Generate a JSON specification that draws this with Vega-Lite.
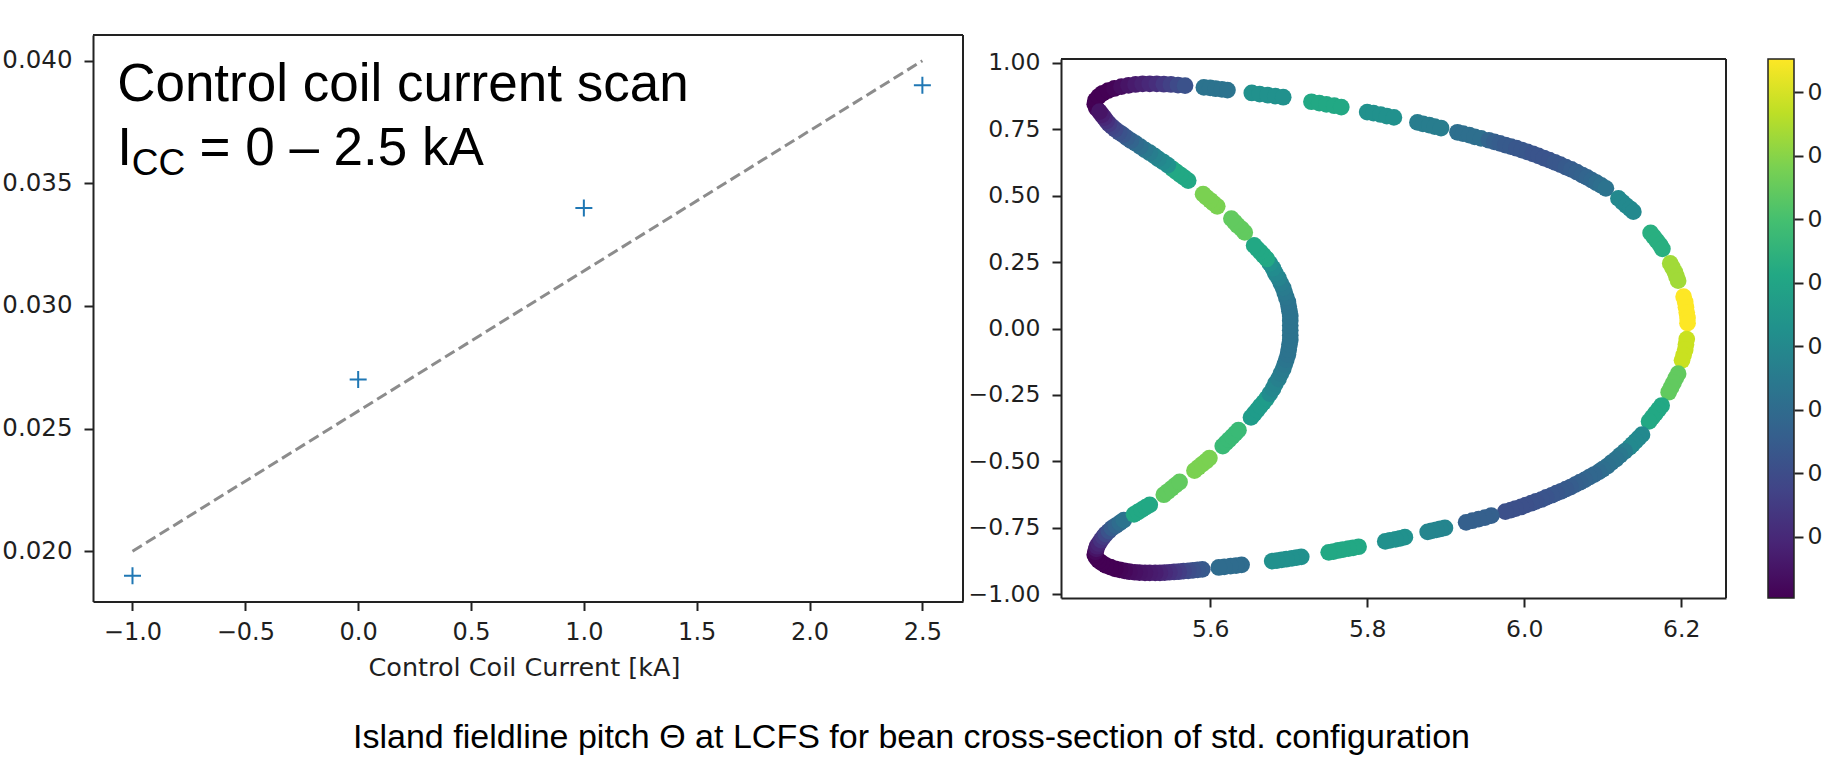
{
  "$schema": "https://vega.github.io/schema/vega-lite/v6.json",
  "width": 1823,
  "height": 764,
  "autosize": {"type": "none"},
  "padding": 0,
  "background": "#ffffff",
  "title": {
    "text": "Island fieldline pitch Θ at LCFS for bean cross-section of std. configuration",
    "orient": "bottom",
    "anchor": "middle",
    "frame": "group",
    "offset": -16,
    "baseline": "alphabetic",
    "font": "Liberation Sans",
    "fontSize": 34,
    "fontWeight": "normal",
    "color": "#000000"
  },
  "config": {
    "view": {"stroke": null},
    "axis": {
      "grid": false,
      "labelFont": "DejaVu Sans",
      "labelFontSize": 23.5,
      "labelColor": "#1f1f1f",
      "tickColor": "#222222",
      "tickWidth": 2,
      "tickSize": 9,
      "domainColor": "#222222",
      "domainWidth": 2,
      "titleFont": "DejaVu Sans",
      "titleFontSize": 25.5,
      "titleFontWeight": "normal",
      "titleColor": "#1f1f1f",
      "labelFlush": false,
      "labelOverlap": false,
      "labelBound": false
    }
  },
  "datasets": {
    "scan": [
      {"current_kA": -1.0, "pitch": 0.019},
      {"current_kA": 0.0, "pitch": 0.027},
      {"current_kA": 1.0, "pitch": 0.034},
      {"current_kA": 2.5, "pitch": 0.039}
    ],
    "fit": [
      {"current_kA": -1.0, "fit": 0.020},
      {"current_kA": 2.5, "fit": 0.040}
    ],
    "colorbar": [{"low": 0.0052, "high": 0.0476}],
    "section": [
      {"R":5.455,"Z":0.830,"pitch":0.0060},{"R":5.453,"Z":0.845,"pitch":0.0052},{"R":5.454,"Z":0.860,"pitch":0.0052},
      {"R":5.458,"Z":0.874,"pitch":0.0052},{"R":5.463,"Z":0.886,"pitch":0.0052},{"R":5.470,"Z":0.896,"pitch":0.0052},
      {"R":5.478,"Z":0.904,"pitch":0.0056},{"R":5.487,"Z":0.911,"pitch":0.0065},{"R":5.496,"Z":0.916,"pitch":0.0073},
      {"R":5.505,"Z":0.919,"pitch":0.0082},{"R":5.514,"Z":0.921,"pitch":0.0090},{"R":5.523,"Z":0.921,"pitch":0.0099},
      {"R":5.532,"Z":0.921,"pitch":0.0107},{"R":5.541,"Z":0.920,"pitch":0.0120},{"R":5.550,"Z":0.919,"pitch":0.0133},
      {"R":5.559,"Z":0.917,"pitch":0.0145},{"R":5.568,"Z":0.915,"pitch":0.0158},

      {"R":5.592,"Z":0.908,"pitch":0.0213},{"R":5.600,"Z":0.906,"pitch":0.0213},{"R":5.607,"Z":0.903,"pitch":0.0213},
      {"R":5.615,"Z":0.901,"pitch":0.0213},{"R":5.622,"Z":0.898,"pitch":0.0213},
      {"R":5.653,"Z":0.887,"pitch":0.0264},{"R":5.663,"Z":0.883,"pitch":0.0264},{"R":5.673,"Z":0.879,"pitch":0.0264},
      {"R":5.683,"Z":0.875,"pitch":0.0264},{"R":5.693,"Z":0.871,"pitch":0.0264},
      {"R":5.729,"Z":0.854,"pitch":0.0306},{"R":5.739,"Z":0.849,"pitch":0.0306},{"R":5.748,"Z":0.844,"pitch":0.0306},
      {"R":5.758,"Z":0.839,"pitch":0.0306},{"R":5.767,"Z":0.834,"pitch":0.0306},
      {"R":5.800,"Z":0.815,"pitch":0.0264},{"R":5.808,"Z":0.811,"pitch":0.0264},{"R":5.817,"Z":0.806,"pitch":0.0264},
      {"R":5.825,"Z":0.800,"pitch":0.0264},{"R":5.834,"Z":0.795,"pitch":0.0264},
      {"R":5.864,"Z":0.776,"pitch":0.0230},{"R":5.871,"Z":0.771,"pitch":0.0230},{"R":5.879,"Z":0.766,"pitch":0.0230},
      {"R":5.886,"Z":0.760,"pitch":0.0230},{"R":5.894,"Z":0.755,"pitch":0.0230},
      {"R":5.915,"Z":0.739,"pitch":0.0205},{"R":5.922,"Z":0.734,"pitch":0.0205},{"R":5.930,"Z":0.728,"pitch":0.0205},
      {"R":5.937,"Z":0.722,"pitch":0.0205},{"R":5.945,"Z":0.716,"pitch":0.0205},

      {"R":5.955,"Z":0.709,"pitch":0.0188},{"R":5.962,"Z":0.703,"pitch":0.0179},{"R":5.969,"Z":0.697,"pitch":0.0175},
      {"R":5.976,"Z":0.691,"pitch":0.0171},{"R":5.983,"Z":0.685,"pitch":0.0171},{"R":5.990,"Z":0.679,"pitch":0.0166},
      {"R":5.997,"Z":0.672,"pitch":0.0166},{"R":6.004,"Z":0.665,"pitch":0.0166},{"R":6.011,"Z":0.658,"pitch":0.0162},
      {"R":6.018,"Z":0.650,"pitch":0.0162},{"R":6.025,"Z":0.642,"pitch":0.0162},{"R":6.032,"Z":0.634,"pitch":0.0162},
      {"R":6.039,"Z":0.626,"pitch":0.0166},{"R":6.046,"Z":0.617,"pitch":0.0166},{"R":6.053,"Z":0.608,"pitch":0.0171},
      {"R":6.060,"Z":0.599,"pitch":0.0175},{"R":6.067,"Z":0.589,"pitch":0.0179},{"R":6.074,"Z":0.578,"pitch":0.0183},
      {"R":6.080,"Z":0.569,"pitch":0.0188},{"R":6.086,"Z":0.559,"pitch":0.0192},{"R":6.092,"Z":0.549,"pitch":0.0200},
      {"R":6.098,"Z":0.539,"pitch":0.0205},{"R":6.104,"Z":0.528,"pitch":0.0213},

      {"R":6.120,"Z":0.490,"pitch":0.0251},{"R":6.125,"Z":0.476,"pitch":0.0251},{"R":6.130,"Z":0.463,"pitch":0.0251},
      {"R":6.135,"Z":0.451,"pitch":0.0251},{"R":6.139,"Z":0.440,"pitch":0.0251},
      {"R":6.161,"Z":0.360,"pitch":0.0319},{"R":6.165,"Z":0.345,"pitch":0.0319},{"R":6.169,"Z":0.330,"pitch":0.0319},
      {"R":6.173,"Z":0.315,"pitch":0.0319},{"R":6.176,"Z":0.300,"pitch":0.0319},
      {"R":6.186,"Z":0.245,"pitch":0.0417},{"R":6.189,"Z":0.229,"pitch":0.0417},{"R":6.192,"Z":0.212,"pitch":0.0417},
      {"R":6.194,"Z":0.196,"pitch":0.0417},{"R":6.196,"Z":0.180,"pitch":0.0417},
      {"R":6.203,"Z":0.120,"pitch":0.0476},{"R":6.205,"Z":0.100,"pitch":0.0476},{"R":6.206,"Z":0.080,"pitch":0.0476},
      {"R":6.207,"Z":0.060,"pitch":0.0476},{"R":6.208,"Z":0.040,"pitch":0.0476},{"R":6.208,"Z":0.020,"pitch":0.0476},
      {"R":6.207,"Z":-0.040,"pitch":0.0442},{"R":6.206,"Z":-0.060,"pitch":0.0442},{"R":6.205,"Z":-0.080,"pitch":0.0442},
      {"R":6.203,"Z":-0.100,"pitch":0.0442},{"R":6.201,"Z":-0.120,"pitch":0.0442},
      {"R":6.196,"Z":-0.170,"pitch":0.0374},{"R":6.193,"Z":-0.187,"pitch":0.0374},{"R":6.190,"Z":-0.205,"pitch":0.0374},
      {"R":6.187,"Z":-0.222,"pitch":0.0374},{"R":6.184,"Z":-0.240,"pitch":0.0374},
      {"R":6.175,"Z":-0.290,"pitch":0.0306},{"R":6.171,"Z":-0.305,"pitch":0.0306},{"R":6.167,"Z":-0.320,"pitch":0.0306},
      {"R":6.163,"Z":-0.335,"pitch":0.0306},{"R":6.159,"Z":-0.350,"pitch":0.0306},
      {"R":6.150,"Z":-0.400,"pitch":0.0251},{"R":6.146,"Z":-0.412,"pitch":0.0251},{"R":6.142,"Z":-0.424,"pitch":0.0251},
      {"R":6.138,"Z":-0.436,"pitch":0.0251},{"R":6.134,"Z":-0.448,"pitch":0.0251},

      {"R":6.128,"Z":-0.463,"pitch":0.0230},{"R":6.122,"Z":-0.478,"pitch":0.0222},{"R":6.117,"Z":-0.492,"pitch":0.0217},
      {"R":6.111,"Z":-0.505,"pitch":0.0213},{"R":6.106,"Z":-0.518,"pitch":0.0209},{"R":6.100,"Z":-0.530,"pitch":0.0205},
      {"R":6.095,"Z":-0.540,"pitch":0.0200},{"R":6.089,"Z":-0.550,"pitch":0.0192},{"R":6.083,"Z":-0.560,"pitch":0.0192},
      {"R":6.077,"Z":-0.570,"pitch":0.0188},{"R":6.071,"Z":-0.579,"pitch":0.0183},{"R":6.065,"Z":-0.588,"pitch":0.0179},
      {"R":6.059,"Z":-0.597,"pitch":0.0175},{"R":6.053,"Z":-0.605,"pitch":0.0171},{"R":6.047,"Z":-0.613,"pitch":0.0171},
      {"R":6.041,"Z":-0.620,"pitch":0.0166},{"R":6.035,"Z":-0.628,"pitch":0.0166},{"R":6.028,"Z":-0.636,"pitch":0.0162},
      {"R":6.022,"Z":-0.644,"pitch":0.0162},{"R":6.015,"Z":-0.651,"pitch":0.0158},{"R":6.009,"Z":-0.658,"pitch":0.0158},
      {"R":6.002,"Z":-0.665,"pitch":0.0154},{"R":5.996,"Z":-0.672,"pitch":0.0154},{"R":5.989,"Z":-0.678,"pitch":0.0154},
      {"R":5.983,"Z":-0.684,"pitch":0.0154},{"R":5.976,"Z":-0.690,"pitch":0.0154},

      {"R":5.958,"Z":-0.705,"pitch":0.0179},{"R":5.950,"Z":-0.712,"pitch":0.0179},{"R":5.942,"Z":-0.718,"pitch":0.0179},
      {"R":5.934,"Z":-0.724,"pitch":0.0179},{"R":5.926,"Z":-0.730,"pitch":0.0179},
      {"R":5.899,"Z":-0.751,"pitch":0.0243},{"R":5.893,"Z":-0.755,"pitch":0.0243},{"R":5.888,"Z":-0.758,"pitch":0.0243},
      {"R":5.882,"Z":-0.762,"pitch":0.0243},{"R":5.877,"Z":-0.766,"pitch":0.0243},
      {"R":5.848,"Z":-0.786,"pitch":0.0264},{"R":5.842,"Z":-0.790,"pitch":0.0264},{"R":5.836,"Z":-0.794,"pitch":0.0264},
      {"R":5.829,"Z":-0.798,"pitch":0.0264},{"R":5.823,"Z":-0.802,"pitch":0.0264},
      {"R":5.789,"Z":-0.822,"pitch":0.0306},{"R":5.782,"Z":-0.826,"pitch":0.0306},{"R":5.776,"Z":-0.829,"pitch":0.0306},
      {"R":5.769,"Z":-0.833,"pitch":0.0306},{"R":5.763,"Z":-0.836,"pitch":0.0306},{"R":5.757,"Z":-0.840,"pitch":0.0306},
      {"R":5.751,"Z":-0.843,"pitch":0.0306},
      {"R":5.716,"Z":-0.860,"pitch":0.0264},{"R":5.710,"Z":-0.863,"pitch":0.0264},{"R":5.704,"Z":-0.866,"pitch":0.0264},
      {"R":5.697,"Z":-0.869,"pitch":0.0264},{"R":5.691,"Z":-0.871,"pitch":0.0264},{"R":5.685,"Z":-0.874,"pitch":0.0264},
      {"R":5.679,"Z":-0.876,"pitch":0.0264},
      {"R":5.640,"Z":-0.890,"pitch":0.0200},{"R":5.633,"Z":-0.893,"pitch":0.0200},{"R":5.626,"Z":-0.895,"pitch":0.0200},
      {"R":5.618,"Z":-0.898,"pitch":0.0200},{"R":5.611,"Z":-0.900,"pitch":0.0200},

      {"R":5.590,"Z":-0.907,"pitch":0.0171},{"R":5.584,"Z":-0.909,"pitch":0.0166},{"R":5.578,"Z":-0.911,"pitch":0.0158},
      {"R":5.572,"Z":-0.913,"pitch":0.0150},{"R":5.566,"Z":-0.914,"pitch":0.0141},{"R":5.560,"Z":-0.916,"pitch":0.0128},
      {"R":5.554,"Z":-0.917,"pitch":0.0120},{"R":5.548,"Z":-0.918,"pitch":0.0111},{"R":5.542,"Z":-0.919,"pitch":0.0103},
      {"R":5.536,"Z":-0.920,"pitch":0.0094},{"R":5.530,"Z":-0.920,"pitch":0.0086},{"R":5.523,"Z":-0.920,"pitch":0.0082},
      {"R":5.517,"Z":-0.920,"pitch":0.0077},{"R":5.510,"Z":-0.919,"pitch":0.0073},{"R":5.504,"Z":-0.918,"pitch":0.0069},
      {"R":5.497,"Z":-0.916,"pitch":0.0065},{"R":5.491,"Z":-0.913,"pitch":0.0060},{"R":5.485,"Z":-0.909,"pitch":0.0056},
      {"R":5.479,"Z":-0.905,"pitch":0.0052},{"R":5.473,"Z":-0.899,"pitch":0.0052},{"R":5.467,"Z":-0.892,"pitch":0.0052},
      {"R":5.462,"Z":-0.883,"pitch":0.0052},{"R":5.458,"Z":-0.874,"pitch":0.0052},{"R":5.455,"Z":-0.863,"pitch":0.0052},
      {"R":5.453,"Z":-0.852,"pitch":0.0052},{"R":5.454,"Z":-0.841,"pitch":0.0060},{"R":5.455,"Z":-0.830,"pitch":0.0073},

      {"R":5.456,"Z":-0.820,"pitch":0.0086},{"R":5.458,"Z":-0.810,"pitch":0.0094},{"R":5.461,"Z":-0.797,"pitch":0.0111},
      {"R":5.464,"Z":-0.785,"pitch":0.0124},{"R":5.467,"Z":-0.774,"pitch":0.0141},{"R":5.471,"Z":-0.763,"pitch":0.0158},
      {"R":5.475,"Z":-0.752,"pitch":0.0175},{"R":5.480,"Z":-0.742,"pitch":0.0188},{"R":5.485,"Z":-0.732,"pitch":0.0200},
      {"R":5.490,"Z":-0.722,"pitch":0.0213},
      {"R":5.503,"Z":-0.700,"pitch":0.0306},{"R":5.508,"Z":-0.691,"pitch":0.0306},{"R":5.513,"Z":-0.682,"pitch":0.0306},
      {"R":5.518,"Z":-0.673,"pitch":0.0306},{"R":5.523,"Z":-0.664,"pitch":0.0306},
      {"R":5.541,"Z":-0.626,"pitch":0.0374},{"R":5.546,"Z":-0.614,"pitch":0.0374},{"R":5.551,"Z":-0.602,"pitch":0.0374},
      {"R":5.556,"Z":-0.590,"pitch":0.0374},{"R":5.561,"Z":-0.578,"pitch":0.0374},
      {"R":5.580,"Z":-0.535,"pitch":0.0391},{"R":5.585,"Z":-0.523,"pitch":0.0391},{"R":5.590,"Z":-0.511,"pitch":0.0391},
      {"R":5.595,"Z":-0.499,"pitch":0.0391},{"R":5.599,"Z":-0.488,"pitch":0.0391},
      {"R":5.616,"Z":-0.443,"pitch":0.0340},{"R":5.620,"Z":-0.431,"pitch":0.0340},{"R":5.624,"Z":-0.419,"pitch":0.0340},
      {"R":5.628,"Z":-0.407,"pitch":0.0340},{"R":5.632,"Z":-0.395,"pitch":0.0340},{"R":5.636,"Z":-0.383,"pitch":0.0340},
      {"R":5.652,"Z":-0.335,"pitch":0.0285},{"R":5.656,"Z":-0.321,"pitch":0.0285},{"R":5.660,"Z":-0.307,"pitch":0.0285},
      {"R":5.664,"Z":-0.292,"pitch":0.0285},{"R":5.668,"Z":-0.278,"pitch":0.0285},{"R":5.672,"Z":-0.263,"pitch":0.0285},

      {"R":5.676,"Z":-0.245,"pitch":0.0256},{"R":5.680,"Z":-0.227,"pitch":0.0247},{"R":5.683,"Z":-0.208,"pitch":0.0243},
      {"R":5.687,"Z":-0.190,"pitch":0.0234},{"R":5.690,"Z":-0.170,"pitch":0.0230},{"R":5.693,"Z":-0.153,"pitch":0.0226},
      {"R":5.695,"Z":-0.135,"pitch":0.0222},{"R":5.697,"Z":-0.117,"pitch":0.0217},{"R":5.699,"Z":-0.098,"pitch":0.0213},
      {"R":5.700,"Z":-0.080,"pitch":0.0213},{"R":5.701,"Z":-0.060,"pitch":0.0213},{"R":5.702,"Z":-0.043,"pitch":0.0213},
      {"R":5.702,"Z":-0.025,"pitch":0.0213},{"R":5.702,"Z":-0.007,"pitch":0.0213},{"R":5.702,"Z":0.011,"pitch":0.0213},
      {"R":5.702,"Z":0.029,"pitch":0.0213},{"R":5.702,"Z":0.047,"pitch":0.0213},{"R":5.701,"Z":0.065,"pitch":0.0213},
      {"R":5.700,"Z":0.083,"pitch":0.0213},{"R":5.699,"Z":0.100,"pitch":0.0213},{"R":5.697,"Z":0.117,"pitch":0.0217},
      {"R":5.695,"Z":0.135,"pitch":0.0222},{"R":5.693,"Z":0.153,"pitch":0.0226},{"R":5.690,"Z":0.170,"pitch":0.0230},
      {"R":5.687,"Z":0.190,"pitch":0.0239},{"R":5.683,"Z":0.208,"pitch":0.0247},{"R":5.680,"Z":0.227,"pitch":0.0256},
      {"R":5.676,"Z":0.245,"pitch":0.0264},

      {"R":5.672,"Z":0.262,"pitch":0.0306},{"R":5.668,"Z":0.275,"pitch":0.0306},{"R":5.664,"Z":0.288,"pitch":0.0306},
      {"R":5.660,"Z":0.300,"pitch":0.0306},{"R":5.656,"Z":0.313,"pitch":0.0306},
      {"R":5.644,"Z":0.362,"pitch":0.0374},{"R":5.640,"Z":0.375,"pitch":0.0374},{"R":5.635,"Z":0.388,"pitch":0.0374},
      {"R":5.631,"Z":0.401,"pitch":0.0374},{"R":5.627,"Z":0.414,"pitch":0.0374},
      {"R":5.609,"Z":0.460,"pitch":0.0391},{"R":5.604,"Z":0.472,"pitch":0.0391},{"R":5.600,"Z":0.483,"pitch":0.0391},
      {"R":5.595,"Z":0.495,"pitch":0.0391},{"R":5.591,"Z":0.506,"pitch":0.0391},
      {"R":5.572,"Z":0.557,"pitch":0.0306},{"R":5.567,"Z":0.568,"pitch":0.0306},{"R":5.562,"Z":0.579,"pitch":0.0306},
      {"R":5.557,"Z":0.590,"pitch":0.0306},{"R":5.552,"Z":0.601,"pitch":0.0306},

      {"R":5.546,"Z":0.615,"pitch":0.0264},{"R":5.540,"Z":0.628,"pitch":0.0256},{"R":5.534,"Z":0.639,"pitch":0.0247},
      {"R":5.529,"Z":0.650,"pitch":0.0239},{"R":5.523,"Z":0.662,"pitch":0.0230},{"R":5.517,"Z":0.673,"pitch":0.0222},
      {"R":5.511,"Z":0.685,"pitch":0.0209},{"R":5.505,"Z":0.697,"pitch":0.0200},{"R":5.499,"Z":0.708,"pitch":0.0188},
      {"R":5.494,"Z":0.718,"pitch":0.0179},{"R":5.489,"Z":0.729,"pitch":0.0166},{"R":5.484,"Z":0.739,"pitch":0.0158},
      {"R":5.479,"Z":0.750,"pitch":0.0145},{"R":5.475,"Z":0.760,"pitch":0.0137},{"R":5.471,"Z":0.771,"pitch":0.0124},
      {"R":5.468,"Z":0.782,"pitch":0.0111},{"R":5.465,"Z":0.794,"pitch":0.0099},{"R":5.462,"Z":0.805,"pitch":0.0086},
      {"R":5.459,"Z":0.817,"pitch":0.0073}
    ]
  },
  "resolve": {
    "scale": {"x": "independent", "y": "independent", "color": "independent"},
    "axis": {"x": "independent", "y": "independent"}
  },
  "layer": [
    {
      "data": {"name": "fit"},
      "mark": {"type": "line", "color": "#8c8c8c", "strokeWidth": 3, "strokeDash": [11, 5]},
      "encoding": {
        "x": {"field": "current_kA", "type": "quantitative", "scale": {"domain": [-1.175, 2.68], "range": [93, 963], "zero": false, "nice": false}, "axis": null},
        "y": {"field": "fit", "type": "quantitative", "scale": {"domain": [0.01795, 0.04105], "range": [601.5, 35], "zero": false, "nice": false}, "axis": null}
      }
    },
    {
      "data": {"name": "scan"},
      "mark": {"type": "point", "shape": "M-1,0L1,0M0,-1L0,1", "size": 289, "filled": false, "color": "#1f77b4", "strokeWidth": 2, "opacity": 1},
      "encoding": {
        "x": {
          "field": "current_kA", "type": "quantitative",
          "scale": {"domain": [-1.175, 2.68], "range": [93, 963], "zero": false, "nice": false},
          "axis": {"orient": "bottom", "offset": -162.5, "values": [-1, -0.5, 0, 0.5, 1, 1.5, 2, 2.5], "format": ".1f", "title": "Control Coil Current [kA]", "labelFontSize": 24, "labelPadding": 10, "titlePadding": 11, "titleX": 524}
        },
        "y": {
          "field": "pitch", "type": "quantitative",
          "scale": {"domain": [0.01795, 0.04105], "range": [601.5, 35], "zero": false, "nice": false},
          "axis": {"orient": "left", "offset": -93, "values": [0.02, 0.025, 0.03, 0.035, 0.04], "format": ".3f", "title": null, "labelFontSize": 24.5, "labelPadding": 12}
        }
      }
    },
    {
      "data": {"values": [{}]},
      "mark": {"type": "rule", "color": "#222222", "strokeWidth": 2},
      "encoding": {
        "x": {"datum": -1.175, "type": "quantitative", "scale": {"domain": [-1.175, 2.68], "range": [93, 963], "zero": false, "nice": false}, "axis": null},
        "x2": {"datum": 2.68},
        "y": {"datum": 0.04105, "type": "quantitative", "scale": {"domain": [0.01795, 0.04105], "range": [601.5, 35], "zero": false, "nice": false}, "axis": null}
      }
    },
    {
      "data": {"values": [{}]},
      "mark": {"type": "rule", "color": "#222222", "strokeWidth": 2},
      "encoding": {
        "x": {"datum": 2.68, "type": "quantitative", "scale": {"domain": [-1.175, 2.68], "range": [93, 963], "zero": false, "nice": false}, "axis": null},
        "y": {"datum": 0.01795, "type": "quantitative", "scale": {"domain": [0.01795, 0.04105], "range": [601.5, 35], "zero": false, "nice": false}, "axis": null},
        "y2": {"datum": 0.04105}
      }
    },
    {
      "data": {"values": [{}]},
      "mark": {"type": "text", "text": "Control coil current scan", "align": "left", "baseline": "alphabetic", "font": "Liberation Sans", "fontSize": 53, "color": "#000000"},
      "encoding": {
        "x": {"datum": -1.068, "type": "quantitative", "scale": {"domain": [-1.175, 2.68], "range": [93, 963], "zero": false, "nice": false}, "axis": null},
        "y": {"datum": 0.03835, "type": "quantitative", "scale": {"domain": [0.01795, 0.04105], "range": [601.5, 35], "zero": false, "nice": false}, "axis": null}
      }
    },
    {
      "data": {"values": [{}]},
      "mark": {"type": "text", "text": "I", "align": "left", "baseline": "alphabetic", "font": "Liberation Sans", "fontSize": 53, "color": "#000000"},
      "encoding": {
        "x": {"datum": -1.068, "type": "quantitative", "scale": {"domain": [-1.175, 2.68], "range": [93, 963], "zero": false, "nice": false}, "axis": null},
        "y": {"datum": 0.035735, "type": "quantitative", "scale": {"domain": [0.01795, 0.04105], "range": [601.5, 35], "zero": false, "nice": false}, "axis": null}
      }
    },
    {
      "data": {"values": [{}]},
      "mark": {"type": "text", "text": "CC", "align": "left", "baseline": "alphabetic", "font": "Liberation Sans", "fontSize": 37, "color": "#000000"},
      "encoding": {
        "x": {"datum": -1.0036, "type": "quantitative", "scale": {"domain": [-1.175, 2.68], "range": [93, 963], "zero": false, "nice": false}, "axis": null},
        "y": {"datum": 0.035327, "type": "quantitative", "scale": {"domain": [0.01795, 0.04105], "range": [601.5, 35], "zero": false, "nice": false}, "axis": null}
      }
    },
    {
      "data": {"values": [{}]},
      "mark": {"type": "text", "text": "= 0 – 2.5 kA", "align": "left", "baseline": "alphabetic", "font": "Liberation Sans", "fontSize": 53, "color": "#000000"},
      "encoding": {
        "x": {"datum": -0.7031, "type": "quantitative", "scale": {"domain": [-1.175, 2.68], "range": [93, 963], "zero": false, "nice": false}, "axis": null},
        "y": {"datum": 0.035735, "type": "quantitative", "scale": {"domain": [0.01795, 0.04105], "range": [601.5, 35], "zero": false, "nice": false}, "axis": null}
      }
    },
    {
      "data": {"name": "section"},
      "mark": {"type": "circle", "size": 280, "opacity": 1},
      "encoding": {
        "x": {
          "field": "R", "type": "quantitative",
          "scale": {"domain": [5.41, 6.257], "range": [1061, 1726], "zero": false, "nice": false},
          "axis": {"orient": "bottom", "offset": -166, "values": [5.6, 5.8, 6.0, 6.2], "format": ".1f", "title": null, "labelPadding": 10}
        },
        "y": {
          "field": "Z", "type": "quantitative",
          "scale": {"domain": [-1.015, 1.015], "range": [598, 59], "zero": false, "nice": false},
          "axis": {"orient": "left", "offset": -1061, "values": [-1, -0.75, -0.5, -0.25, 0, 0.25, 0.5, 0.75, 1], "format": ".2f", "title": null, "labelPadding": 12}
        },
        "color": {"field": "pitch", "type": "quantitative", "scale": {"scheme": "viridis", "domain": [0.0052, 0.0476]}, "legend": null}
      }
    },
    {
      "data": {"values": [{}]},
      "mark": {"type": "rule", "color": "#222222", "strokeWidth": 2},
      "encoding": {
        "x": {"datum": 5.41, "type": "quantitative", "scale": {"domain": [5.41, 6.257], "range": [1061, 1726], "zero": false, "nice": false}, "axis": null},
        "x2": {"datum": 6.257},
        "y": {"datum": 1.015, "type": "quantitative", "scale": {"domain": [-1.015, 1.015], "range": [598, 59], "zero": false, "nice": false}, "axis": null}
      }
    },
    {
      "data": {"values": [{}]},
      "mark": {"type": "rule", "color": "#222222", "strokeWidth": 2},
      "encoding": {
        "x": {"datum": 6.257, "type": "quantitative", "scale": {"domain": [5.41, 6.257], "range": [1061, 1726], "zero": false, "nice": false}, "axis": null},
        "y": {"datum": -1.015, "type": "quantitative", "scale": {"domain": [-1.015, 1.015], "range": [598, 59], "zero": false, "nice": false}, "axis": null},
        "y2": {"datum": 1.015}
      }
    },
    {
      "data": {"name": "colorbar"},
      "mark": {
        "type": "rect",
        "stroke": "#222222",
        "strokeWidth": 1.5,
        "fill": {
          "gradient": "linear", "x1": 0, "y1": 1, "x2": 0, "y2": 0,
          "stops": [
            {"offset": 0.0, "color": "#440154"},
            {"offset": 0.1, "color": "#482475"},
            {"offset": 0.2, "color": "#414487"},
            {"offset": 0.3, "color": "#355f8d"},
            {"offset": 0.4, "color": "#2a788e"},
            {"offset": 0.5, "color": "#21918c"},
            {"offset": 0.6, "color": "#22a884"},
            {"offset": 0.7, "color": "#44bf70"},
            {"offset": 0.8, "color": "#7ad151"},
            {"offset": 0.9, "color": "#bddf26"},
            {"offset": 1.0, "color": "#fde725"}
          ]
        }
      },
      "encoding": {
        "x": {"datum": 0, "type": "quantitative", "scale": {"domain": [0, 1], "range": [1768, 1794], "zero": false, "nice": false}, "axis": null},
        "x2": {"datum": 1},
        "y": {
          "field": "low", "type": "quantitative",
          "scale": {"domain": [0.0052, 0.0476], "range": [598, 59], "zero": false, "nice": false},
          "axis": {"orient": "right", "offset": -29, "values": [0.01, 0.015, 0.02, 0.025, 0.03, 0.035, 0.04, 0.045], "format": ".3f", "title": null, "domain": false, "labelPadding": 4}
        },
        "y2": {"field": "high"}
      }
    }
  ]
}
